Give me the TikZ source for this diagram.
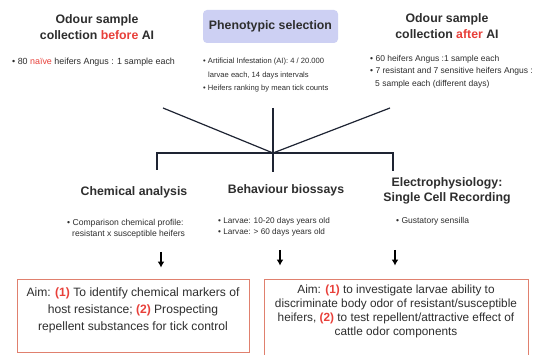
\documentclass[tikz,border=0pt]{standalone}
\usepackage{fontspec}
\setmainfont{Liberation Sans}
\usetikzlibrary{positioning,arrows.meta}
\definecolor{hired}{HTML}{E8403A}
\definecolor{titlegray}{HTML}{2E2E2E}
\definecolor{aimborder}{HTML}{E0806E}
\definecolor{phenofill}{HTML}{CDD0F3}
\definecolor{linkcol}{HTML}{1E2433}
\newcommand{\redtxt}[1]{\textcolor{hired}{#1}}

\begin{document}
\begin{tikzpicture}[x=1pt,y=-1pt,
  title/.style={font=\fontsize{12.3}{16}\selectfont\bfseries, text=titlegray, align=center, inner sep=0pt},
  bullets/.style={font=\fontsize{8.5}{12.5}\selectfont, text=titlegray, align=left, anchor=north west, inner sep=0pt},
  aimbox/.style={draw=aimborder, line width=0.9pt, inner sep=0pt},
  aimtext/.style={font=\fontsize{12.1}{17}\selectfont, text=titlegray, align=center, inner sep=0pt},
  link/.style={draw=linkcol, line width=1.2pt},
  down/.style={-{Latex[length=6pt,width=7pt]}, draw=black, line width=1.8pt}
  ]
  \clip (0,0) rectangle (539,355);
  \fill[white] (0,0) rectangle (539,355);

  % top row
  \node[title] (tBefore) at (97,27) {Odour sample\\collection \redtxt{before} AI};
  \node[title, fill=phenofill, rounded corners=4pt, minimum width=135, minimum height=33] (tPheno) at (270.5,26.5) {Phenotypic selection};
  \node[title] (tAfter) at (447,26) {Odour sample\\collection \redtxt{after} AI};

  \node[bullets, font=\fontsize{8.9}{12.5}\selectfont] (bBefore) at (12,57.5) {\textbullet\ 80 \redtxt{naïve} heifers Angus : 1 sample each};
  \node[bullets, font=\fontsize{7.6}{13.5}\selectfont] (bPheno) at (203,58) {\textbullet\ Artificial Infestation (AI): 4 / 20.000\\
    \hspace*{5pt}larvae each, 14 days intervals\\
    \textbullet\ Heifers ranking by mean tick counts};
  \node[bullets] (bAfter) at (370,55) {\textbullet\ 60 heifers Angus :1 sample each\\
    \textbullet\ 7 resistant and 7 sensitive heifers Angus :\\
    \hspace*{5pt}5 sample each (different days)};

  % branches
  \coordinate (lBefore) at (163,108);
  \coordinate (lPheno) at (273,108);
  \coordinate (lAfter) at (390,108);
  \coordinate (hub) at (273,153);
  \coordinate (dropChem) at (157,170);
  \coordinate (dropBehav) at (273,172);
  \coordinate (dropElec) at (393,171);
  \draw[link] (lBefore) -- (hub);
  \draw[link] (lPheno) -- (hub);
  \draw[link] (lAfter) -- (hub);
  \draw[link] (dropChem) |- (hub) -| (dropElec);
  \draw[link] (hub) -- (dropBehav);

  % second row
  \node[title] (tChem) at (134,192) {Chemical analysis};
  \node[title] (tBehav) at (286,190) {Behaviour biossays};
  \node[title, font=\fontsize{12.3}{15}\selectfont\bfseries] (tElec) at (447,190.5) {Electrophysiology:\\Single Cell Recording};

  \node[bullets, font=\fontsize{8.6}{11}\selectfont] (bChem) at (67,219.5) {\textbullet\ Comparison chemical profile:\\
    \hspace*{5pt}resistant x susceptible heifers};
  \node[bullets, font=\fontsize{8.2}{11}\selectfont] (bBehav) at (218,217) {\textbullet\ Larvae: 10-20 days years old\\
    \textbullet\ Larvae: > 60 days years old};
  \node[bullets] (bElec) at (396,217) {\textbullet\ Gustatory sensilla};

  % aims
  \node[aimbox, minimum width=232, minimum height=73] (aimChem) at (133,315.5) {};
  \node[aimtext] (aimChemTxt) at (133,310.5) {Aim: \redtxt{\textbf{(1)}} To identify chemical markers of\\
    host resistance; \redtxt{\textbf{(2)}} Prospecting\\
    repellent substances for tick control};
  \node[aimbox, minimum width=264, minimum height=84] (aimBehav) at (396,321) {};
  \node[aimtext, font=\fontsize{11.8}{14.3}\selectfont] (aimBehavTxt) at (396,311.5) {Aim: \redtxt{\textbf{(1)}} to investigate larvae ability to\\
    discriminate body odor of resistant/susceptible\\
    heifers, \redtxt{\textbf{(2)}} to test repellent/attractive effect of\\
    cattle odor components};

  \coordinate (aChem) at (161,252);
  \coordinate (aBehav) at (280,250);
  \coordinate (aElec) at (395,250);
  \draw[down, shorten >=11pt] (aChem) -- (aChem |- aimChem.north);
  \draw[down, shorten >=13pt] (aBehav) -- (aBehav |- aimBehav.north);
  \draw[down, shorten >=13pt] (aElec) -- (aElec |- aimBehav.north);
\end{tikzpicture}
\end{document}
